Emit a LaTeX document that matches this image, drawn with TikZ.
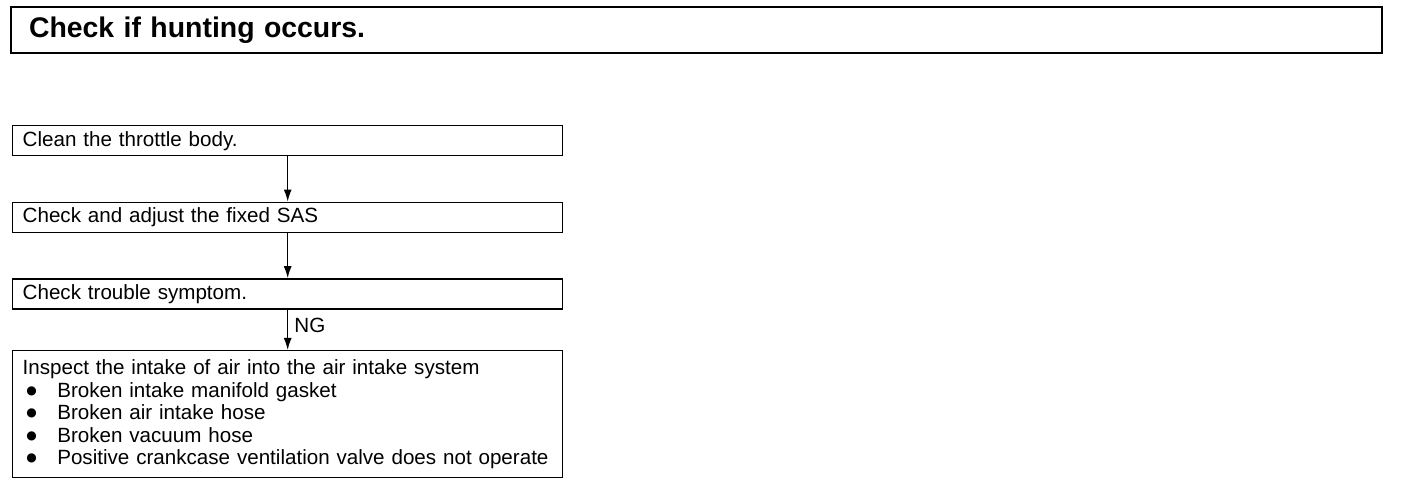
\documentclass[tikz,border=0pt]{standalone}
\usepackage{fontspec}
\setmainfont{Liberation Sans}
\newfontfamily\bulletfont{DejaVu Sans}
\usepackage{tikz}
\usetikzlibrary{positioning,arrows.meta}
\tikzset{
  titlebox/.style={draw, line width=1pt, anchor=north west, minimum width=685.5pt, minimum height=23pt, text width=667.5pt, inner xsep=9pt, align=left, font=\fontsize{14.2}{16}\selectfont\bfseries},
  stepbox/.style={draw, line width=0.7pt, minimum width=275pt, minimum height=15pt, text width=265pt, inner xsep=5pt, inner ysep=2pt, align=left},
  arrow/.style={-{Latex[length=6pt,width=4pt]}, line width=0.7pt}
}
\newcommand{\itembul}{\hspace*{1.8pt}\makebox[15.5pt][l]{\raisebox{1.4pt}{\bulletfont\fontsize{6}{0}\selectfont ●}}}

\begin{document}
\begin{tikzpicture}[x=0.5pt, y=-0.5pt, font=\fontsize{10.3}{11.25}\selectfont]
  \useasboundingbox (0,0) rectangle (1408,480);

  \node[titlebox] (hunt) at (10,6) {Check if hunting occurs.};

  \node[stepbox, anchor=north west] (clean) at (12,125) {Clean the throttle body.};
  \node[stepbox, below=22.6pt of clean] (sas) {Check and adjust the fixed SAS};
  \node[stepbox, below=22.6pt of sas] (symptom) {Check trouble symptom.};
  \node[stepbox, minimum height=63.5pt, below=20.2pt of symptom] (intake) {Inspect the intake of air into the air intake system\\
    \itembul Broken intake manifold gasket\\
    \itembul Broken air intake hose\\
    \itembul Broken vacuum hose\\
    \itembul Positive crankcase ventilation valve does not operate};

  \draw[arrow] (clean) -- (sas);
  \draw[arrow] (sas) -- (symptom);
  \draw[arrow] (symptom) -- node[right, pos=0.38, inner xsep=3pt]{NG} (intake);
\end{tikzpicture}
\end{document}
